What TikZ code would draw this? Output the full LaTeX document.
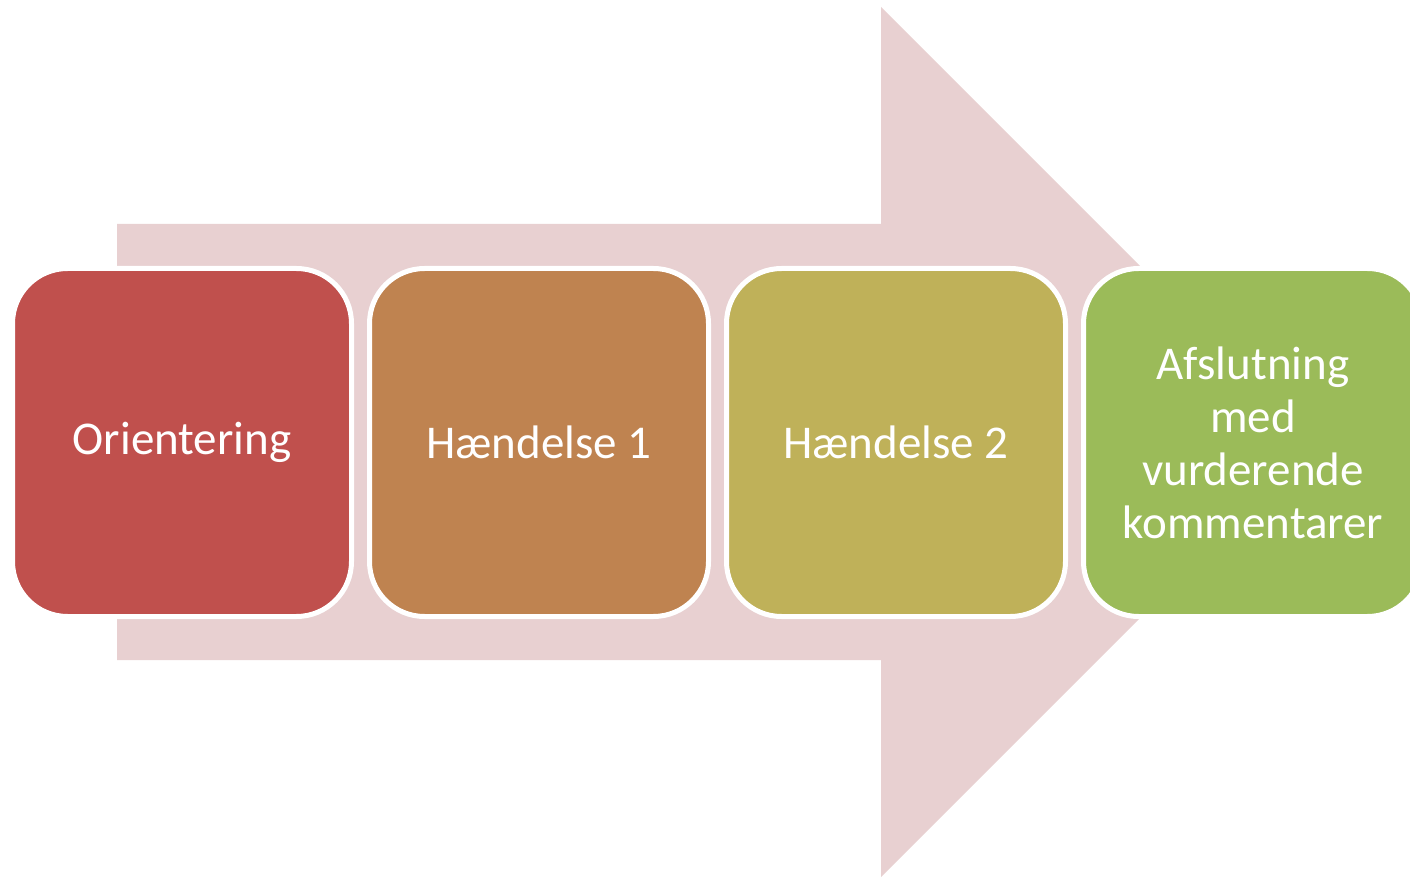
\documentclass[tikz,border=0pt]{standalone}
\usepackage{fontspec}
\setmainfont{Carlito}
\usepackage{tikz}
\usetikzlibrary{positioning}

\definecolor{arrowpink}{RGB}{232,208,209}
\definecolor{stepred}{RGB}{192,80,77}
\definecolor{steporange}{RGB}{191,131,80}
\definecolor{stepolive}{RGB}{191,177,89}
\definecolor{stepgreen}{RGB}{155,187,89}

\tikzset{
    stagebox/.style={rectangle, rounded corners=27.5pt, draw=white, line width=2.5pt,
        outer sep=0pt, minimum width=169.5pt, minimum height=174pt,
        text=white, align=center, font=\fontsize{23.5}{26.5}\selectfont},
}

\begin{document}
\begin{tikzpicture}[x=0.5pt, y=-0.5pt, node distance=9pt]
            \useasboundingbox (0,0) rectangle (1410,877);

            % big arrow behind the stages
            \fill[arrowpink] (117,224) -- (881,224) -- (881,7) -- (1316,442)
                -- (881,877) -- (881,660) -- (117,660) -- cycle;

            \node[stagebox, fill=stepred] (orientering) at (182,442.5) {Orientering};
            \node[stagebox, fill=steporange, right=of orientering] (haendelse1) {Hændelse 1};
            \node[stagebox, fill=stepolive, right=of haendelse1] (haendelse2) {Hændelse 2};
            \node[stagebox, fill=stepgreen, right=of haendelse2] (afslutning)
                {Afslutning\\med\\vurderende\\kommentarer};
        \end{tikzpicture}
\end{document}
